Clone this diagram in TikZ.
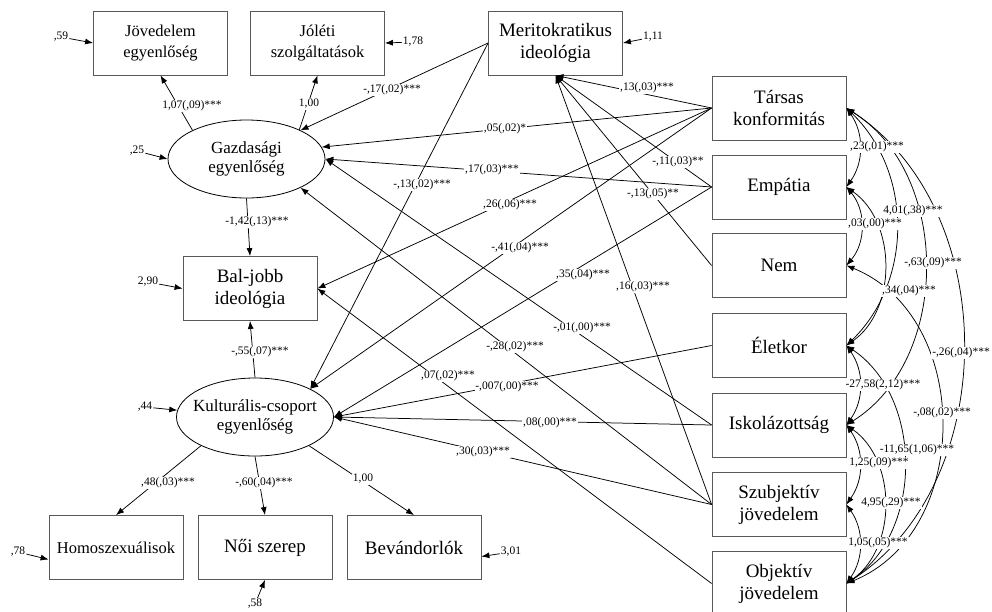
\documentclass[tikz,border=0pt]{standalone}
\usepackage{fontspec}
\setmainfont{Liberation Serif}
\usetikzlibrary{arrows.meta,shapes.geometric}
\begin{document}
\begin{tikzpicture}[x=1pt,y=-1pt,
  box/.style={draw=black!65, line width=0.8pt, minimum width=134pt, minimum height=64pt, inner sep=0pt, align=center, font=\fontsize{19}{22}\selectfont},
  boxs/.style={box, font=\fontsize{16.5}{21}\selectfont},
  lat/.style={ellipse, draw=black, line width=0.8pt, minimum width=157pt, minimum height=78pt, inner sep=0pt},
  lattxt/.style={align=center, inner sep=0pt, font=\fontsize{17}{19.5}\selectfont},
  lbl/.style={fill=white, inner sep=0.8pt, font=\fontsize{11.5}{12.5}\selectfont},
  err/.style={inner sep=1pt, font=\fontsize{11.5}{12.5}\selectfont},
  arr/.style={-{Latex[length=8pt,width=6pt]}, line width=0.75pt},
  cov/.style={{Latex[length=8pt,width=6pt]}-{Latex[length=8pt,width=6pt]}, line width=0.75pt},
]
\clip (0,0) rectangle (992,611);
\fill[white] (0,0) rectangle (992,611);

% observed and latent variables
\node[boxs] (jov) at (160.5,43) {Jövedelem\\egyenlőség};
\node[boxs] (jol) at (317.5,43) {Jóléti\\szolgáltatások};
\node[box] (mer) at (555.5,43) {Meritokratikus\\ideológia};
\node[lat] (gaz) at (246.5,159) {};
\node[lattxt] (gaztxt) at (gaz) {Gazdasági\\egyenlőség};
\node[box] (bal) at (250,288.5) {Bal-jobb\\ideológia};
\node[lat] (kul) at (255,417) {};
\node[lattxt] (kultxt) at (kul) {Kulturális-csoport\\egyenlőség};
\node[boxs] (hom) at (116,547.5) {Homoszexuálisok};
\node[box] (noi) at (265,547.5) {Női szerep};
\node[box] (bev) at (414,547.5) {Bevándorlók};
\node[box] (tar) at (779,108) {Társas\\konformitás};
\node[box] (emp) at (779,187) {Empátia};
\node[box] (nem) at (779,265.5) {Nem};
\node[box] (elet) at (779,345.5) {Életkor};
\node[box] (isk) at (779,425) {Iskolázottság};
\node[box] (szub) at (779,504.5) {Szubjektív\\jövedelem};
\node[box] (obj) at (779,583.5) {Objektív\\jövedelem};

% measurement paths
\draw[arr] (gaz.152) -- (jov.south);
\draw[arr] (gaz.29) -- (jol.south);
\draw[arr] (gaz.south) -- (bal.north);
\draw[arr] (kul.north) -- (bal.south);
\draw[arr] (kul.208) -- (hom.north);
\draw[arr] (kul.south) -- (noi.north);
\draw[arr] (kul.-28) -- (bev.north);

% structural paths
\draw[arr] (mer.west) -- (gaz.28);
\draw[arr] (mer.west) -- (kul.27);
\draw[arr] (tar.west) -- (mer.south);
\draw[arr] (tar.west) -- (gaz.9);
\draw[arr] (tar.west) -- (bal.east);
\draw[arr] (tar.west) -- (kul.27);
\draw[arr] (emp.west) -- (mer.south);
\draw[arr] (emp.west) -- (gaz.east);
\draw[arr] (emp.west) -- (kul.east);
\draw[arr] (nem.west) -- (mer.south);
\draw[arr] (elet.west) -- (kul.east);
\draw[arr] (isk.west) -- (gaz.east);
\draw[arr] (isk.west) -- (kul.east);
\draw[arr] (szub.west) -- (mer.south);
\draw[arr] (szub.west) -- (gaz.-28);
\draw[arr] (szub.west) -- (kul.east);
\draw[arr] (obj.west) -- (bal.east);

% covariances
\draw[cov] (tar.east) to[bend left=35] (emp.east);
\draw[cov] (emp.east) to[bend left=40] (nem.east);
\draw[cov] (elet.east) to[bend left=35] (isk.east);
\draw[cov] (isk.east) to[bend left=35] (szub.east);
\draw[cov] (szub.east) to[bend left=35] (obj.east);
\draw[cov] (tar.east) to[bend left=46] (elet.east);
\draw[cov] (emp.east) to[bend left=55] (elet.east);
\draw[cov] (tar.east) to[bend left=58] (isk.east);
\draw[cov] (tar.east) to[bend left=57] (obj.east);
\draw[cov] (nem.east) to[bend left=68, looseness=1.1] (obj.east);
\draw[cov] (elet.east) to[bend left=56] (obj.east);
\draw[cov] (isk.east) to[bend left=55] (obj.east);

% error variances
\node[err] (e59) at (61,37) {,59};
\draw[arr] (e59) -- (jov.west);
\node[err] (e178) at (413,42) {1,78};
\draw[arr] (e178) -- (jol.east);
\node[err] (e111) at (653,37) {1,11};
\draw[arr] (e111) -- (mer.east);
\node[err] (e25) at (137,151) {,25};
\draw[arr] (e25) -- (gaz.west);
\node[err] (e290) at (148,282) {2,90};
\draw[arr] (e290) -- (bal.west);
\node[err] (e44) at (145,407) {,44};
\draw[arr] (e44) -- (kul.175);
\node[err] (e78) at (18,552) {,78};
\draw[arr] (e78) -- ([yshift=-12pt]hom.west);
\node[err] (e58) at (255,604) {,58};
\draw[arr] (e58) -- (noi.south);
\node[err] (e301) at (511,552) {3,01};
\draw[arr] (e301) -- ([yshift=-9pt]bev.east);

% coefficient labels
\node[lbl] (c1) at (192,106) {1,07(,09)***};
\node[lbl] (c2) at (309,104) {1,00};
\node[lbl] (c3) at (392,90) {-,17(,02)***};
\node[lbl] (c4) at (257,222) {-1,42(,13)***};
\node[lbl] (c5) at (260,352) {-,55(,07)***};
\node[lbl] (c6) at (168,483) {,48(,03)***};
\node[lbl] (c7) at (264,483) {-,60(,04)***};
\node[lbl] (c8) at (363,479) {1,00};
\node[lbl] (c9) at (647,88) {,13(,03)***};
\node[lbl] (c10) at (505,129) {,05(,02)*};
\node[lbl] (c11) at (492,170) {,17(,03)***};
\node[lbl] (c12) at (422,185) {-,13(,02)***};
\node[lbl] (c13) at (510,205) {,26(,06)***};
\node[lbl] (c14) at (678,162) {-,11(,03)**};
\node[lbl] (c15) at (653,194) {-,13(,05)**};
\node[lbl] (c16) at (520,248) {-,41(,04)***};
\node[lbl] (c17) at (583,275) {,35(,04)***};
\node[lbl] (c18) at (643,287) {,16(,03)***};
\node[lbl] (c19) at (582,328) {-,01(,00)***};
\node[lbl] (c20) at (515,347) {-,28(,02)***};
\node[lbl] (c21) at (448,376) {,07(,02)***};
\node[lbl] (c22) at (507,387) {-,007(,00)***};
\node[lbl] (c23) at (550,423) {,08(,00)***};
\node[lbl] (c24) at (483,452) {,30(,03)***};

% covariance labels
\node[lbl] (v1) at (877,147) {,23(,01)***};
\node[lbl] (v2) at (913,211) {4,01(,38)***};
\node[lbl] (v3) at (875,224) {,03(,00)***};
\node[lbl] (v4) at (933,263) {-,63(,09)***};
\node[lbl] (v5) at (909,291) {,34(,04)***};
\node[lbl] (v6) at (961,353) {-,26(,04)***};
\node[lbl] (v7) at (883,385) {-27,58(2,12)***};
\node[lbl] (v8) at (942,413) {-,08(,02)***};
\node[lbl] (v9) at (917,450) {-11,65(1,06)***};
\node[lbl] (v10) at (879,463) {1,25(,09)***};
\node[lbl] (v11) at (891,503) {4,95(,29)***};
\node[lbl] (v12) at (878,543) {1,05(,05)***};
\end{tikzpicture}
\end{document}
